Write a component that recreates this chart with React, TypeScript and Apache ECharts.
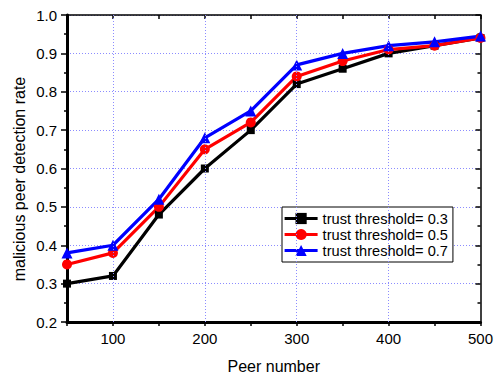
import React, { useEffect, useRef } from "react";
import * as echarts from "echarts";

const peers = [50, 100, 150, 200, 250, 300, 350, 400, 450, 500];
const t03 = [0.3, 0.32, 0.48, 0.6, 0.7, 0.82, 0.86, 0.9, 0.92, 0.94];
const t05 = [0.35, 0.38, 0.5, 0.65, 0.72, 0.84, 0.88, 0.91, 0.92, 0.94];
const t07 = [0.38, 0.4, 0.52, 0.68, 0.75, 0.87, 0.9, 0.92, 0.93, 0.945];
const seriesNames = ["trust threshold= 0.3", "trust threshold= 0.5", "trust threshold= 0.7"];
const xGrid = [100, 200, 300, 400];

const FONT = 'Arial, "Liberation Sans", sans-serif';

export default function App() {
  const ref = useRef<HTMLDivElement>(null);
  useEffect(() => {
    if (!ref.current) return;
    const chart = echarts.init(ref.current, undefined, { renderer: "svg" });
    const mk = (name: string, vals: number[], color: string, symbol: string, size: number) => ({
      name,
      type: "line",
      data: peers.map((p, i) => [p, vals[i]]),
      symbol,
      symbolSize: size,
      itemStyle: { color },
      lineStyle: { color, width: 3.2 },
      z: 3,
    });
    chart.setOption({
      animation: false,
      textStyle: { fontFamily: FONT },
      grid: { left: 67, right: 11, top: 15, bottom: 53 },
      legend: {
        orient: "vertical",
        left: 282,
        top: 207,
        itemWidth: 33,
        itemHeight: 14,
        itemGap: 1,
        padding: [4, 5, 4, 1],
        backgroundColor: "#ffffff",
        borderColor: "#000000",
        borderWidth: 1,
        lineStyle: { width: 3.2 },
        textStyle: { fontFamily: FONT, fontSize: 14.6, color: "#000" },
        data: seriesNames,
      },
      xAxis: [
        {
          type: "value",
          min: 50,
          max: 500,
          interval: 50,
          position: "bottom",
          axisLine: { show: true, onZero: false, lineStyle: { color: "#000", width: 3 } },
          axisTick: { show: true, inside: false, length: 4, lineStyle: { color: "#000", width: 1.5 } },
          axisLabel: {
            margin: 9,
            fontSize: 15,
            color: "#000",
            fontFamily: FONT,
            formatter: (v: number) => (v % 100 === 0 ? String(v) : ""),
          },
          splitLine: { show: false },
          name: "Peer number",
          nameLocation: "middle",
          nameGap: 36,
          nameTextStyle: { fontSize: 16, color: "#000", fontFamily: FONT },
        },
        {
          type: "value",
          min: 50,
          max: 500,
          interval: 50,
          position: "top",
          axisLine: { show: true, onZero: false, lineStyle: { color: "#000", width: 1.5 } },
          axisTick: { show: true, inside: true, length: 4, lineStyle: { color: "#000", width: 1.5 } },
          axisLabel: { show: false },
          splitLine: { show: false },
        },
      ],
      yAxis: [
        {
          type: "value",
          min: 0.2,
          max: 1.0,
          interval: 0.1,
          position: "left",
          axisLine: { show: true, onZero: false, lineStyle: { color: "#000", width: 3 } },
          axisTick: { show: true, inside: false, length: 6, lineStyle: { color: "#000", width: 1.5 } },
          minorTick: { show: true, splitNumber: 2, length: 3, lineStyle: { color: "#000", width: 1.5 } },
          axisLabel: {
            margin: 10,
            fontSize: 15,
            color: "#000",
            fontFamily: FONT,
            formatter: (v: number) => v.toFixed(1),
          },
          splitLine: { show: true, lineStyle: { color: "#8c8cff", width: 1, type: [1, 2] } },
        },
        {
          type: "value",
          min: 0.2,
          max: 1.0,
          interval: 0.1,
          position: "right",
          axisLine: { show: true, onZero: false, lineStyle: { color: "#000", width: 1.5 } },
          axisTick: { show: true, inside: true, length: 5, lineStyle: { color: "#000", width: 1.5 } },
          minorTick: { show: true, splitNumber: 2, length: 3, lineStyle: { color: "#000", width: 1.5 } },
          axisLabel: { show: false },
          splitLine: { show: false },
        },
      ],
      graphic: [
        {
          type: "text",
          x: 19,
          y: 179,
          rotation: Math.PI / 2,
          style: {
            text: "malicious peer detection rate",
            fontSize: 16,
            fontFamily: FONT,
            fill: "#000",
            align: "center",
            verticalAlign: "middle",
          },
        },
      ],
      series: [
        {
          name: "grid",
          type: "line",
          data: [],
          z: 1,
          silent: true,
          markLine: {
            silent: true,
            symbol: "none",
            label: { show: false },
            lineStyle: { color: "#8c8cff", width: 1, type: [1, 2] },
            data: xGrid.map((x) => ({ xAxis: x })),
          },
        },
        mk(seriesNames[0], t03, "#000000", "rect", 8),
        mk(seriesNames[1], t05, "#ff0000", "circle", 10),
        mk(seriesNames[2], t07, "#0000ff", "triangle", 11),
      ],
    });
    return () => chart.dispose();
  }, []);
  return (
    <div
      ref={ref}
      style={{ position: "fixed", left: 0, top: 0, width: 496, height: 379, background: "#fff" }}
    />
  );
}
